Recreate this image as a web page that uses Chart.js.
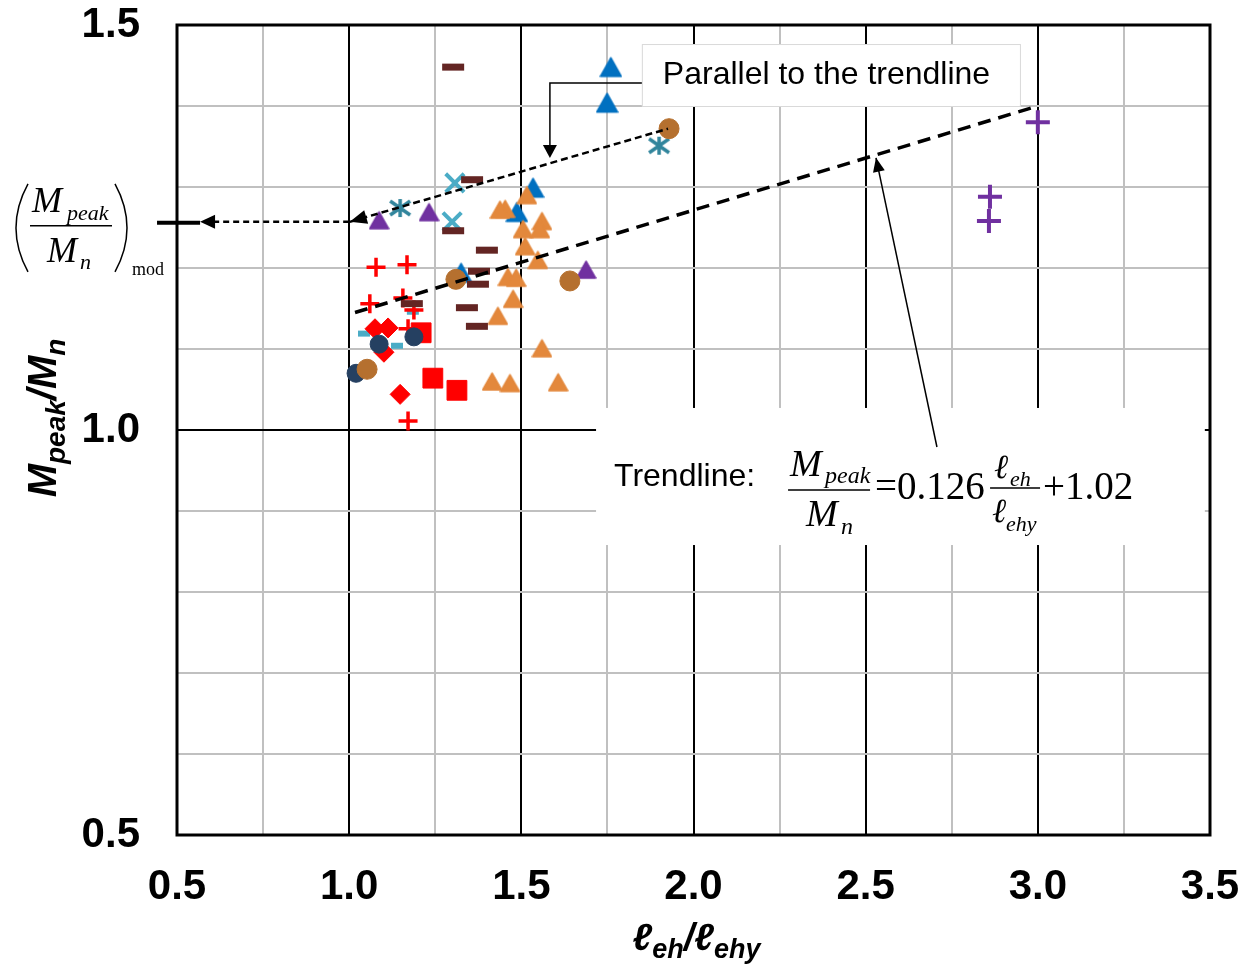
<!DOCTYPE html>
<html lang="en">
<head>
<meta charset="UTF-8">
<title>Mpeak/Mn vs leh/lehy</title>
<script src="https://cdn.jsdelivr.net/npm/chart.js"></script>
<style>
  html, body { margin: 0; padding: 0; background: #fff; }
  #chart { display: block; }
</style>
</head>
<body>
<canvas id="chart" width="1250" height="968"></canvas>
<script>
  // axis ranges and the ticks that carry a label
  const xMin = 0.5, xMax = 3.5, xStep = 0.25;
  const yMin = 0.5, yMax = 1.5, yStep = 0.1;
  const xLabelled = [0.5, 1.0, 1.5, 2.0, 2.5, 3.0, 3.5];
  const yLabelled = [0.5, 1.0, 1.5];

  // [leh/lehy, Mpeak/Mn] per specimen group
  const brownCircle = [[1.052, 1.075], [1.310, 1.186], [1.641, 1.184], [1.929, 1.372]];
  const navyCircle = [[1.020, 1.070], [1.087, 1.106], [1.188, 1.115]];
  const maroonDash = [[1.302, 1.448], [1.357, 1.309], [1.302, 1.246], [1.400, 1.222], [1.377, 1.196],
                      [1.374, 1.180], [1.342, 1.151], [1.371, 1.128], [1.182, 1.156]];
  const redSquare = [[1.209, 1.120], [1.243, 1.064], [1.313, 1.049]];
  const redDiamond = [[1.075, 1.125], [1.113, 1.126], [1.101, 1.096], [1.148, 1.044]];
  const redPlus = [[1.078, 1.201], [1.168, 1.204], [1.060, 1.156], [1.156, 1.163], [1.188, 1.148],
                   [1.171, 1.125], [1.171, 1.011]];
  const blueDash = [[1.043, 1.119], [1.139, 1.104], [1.185, 1.146]];
  const blueCross = [[1.307, 1.305], [1.299, 1.257]];
  const tealStar = [[1.148, 1.274], [1.900, 1.351]];
  const orangeTri = [[1.453, 1.273], [1.438, 1.272], [1.516, 1.290], [1.505, 1.248], [1.560, 1.258],
                     [1.554, 1.248], [1.511, 1.227], [1.548, 1.210], [1.461, 1.189], [1.485, 1.188],
                     [1.476, 1.162], [1.432, 1.141], [1.560, 1.101], [1.415, 1.060], [1.467, 1.058],
                     [1.607, 1.059]];
  const blueTri = [[1.760, 1.448], [1.749, 1.404], [1.534, 1.299], [1.487, 1.269], [1.325, 1.194]];
  const purpleTri = [[1.087, 1.259], [1.232, 1.269], [1.688, 1.198]];
  const purplePlus = [[3.000, 1.380], [2.861, 1.288], [2.858, 1.258]];

  // trendline and its parallel (end points)
  const trendline = [[1.017, 1.145], [2.992, 1.399]];
  const parallelLine = [[1.002, 1.257], [1.926, 1.372]];

  // annotation anchors, in axis units
  const modY = 1.257;
  const modArrowTipX = 0.567, modTickStartX = 0.442;
  const noteBox = [1.850, 1.4765, 2.948, 1.400];
  const noteElbow = [1.583, 1.4284, 1.3358];
  const eqBox = [1.717, 1.0272, 3.485, 0.858];
  const eqArrow = [2.707, 0.979, 2.530, 1.336];

  const SANS = '"Liberation Sans", Arial, sans-serif';
  const SERIF = '"Liberation Serif", "Times New Roman", serif';

  const pts = arr => arr.map(p => ({ x: p[0], y: p[1] }));
  const near = (list, v) => list.some(t => Math.abs(t - v) < 1e-6);

  function asterisk(color) {
    const c = document.createElement('canvas');
    c.width = c.height = 26;
    const g = c.getContext('2d');
    g.strokeStyle = color;
    g.lineWidth = 3.5;
    g.beginPath();
    g.moveTo(13, 4); g.lineTo(13, 22);
    g.moveTo(3, 6); g.lineTo(23, 20);
    g.moveTo(23, 6); g.lineTo(3, 20);
    g.stroke();
    return c;
  }

  // Excel-like triangle: box centred on the point
  function tri(color, w) {
    const c = document.createElement('canvas');
    c.width = c.height = w;
    const g = c.getContext('2d');
    const h = w * 0.9, top = (w - h) / 2;
    g.fillStyle = g.strokeStyle = color;
    g.lineWidth = 1.5;
    g.lineJoin = 'round';
    g.beginPath();
    g.moveTo(w / 2, top + 1);
    g.lineTo(w - 1, top + h - 1);
    g.lineTo(1, top + h - 1);
    g.closePath();
    g.fill();
    g.stroke();
    return c;
  }

  function marks(data, style, color, radius, border) {
    const filled = style === 'circle' || style === 'rect' || style === 'rectRot';
    return {
      data: pts(data),
      order: 1,
      pointStyle: style,
      pointRadius: radius,
      backgroundColor: filled ? color : 'transparent',
      borderColor: color,
      pointBorderWidth: border
    };
  }

  function arrowHead(ctx, tx, ty, fx, fy, len, half) {
    const a = Math.atan2(ty - fy, tx - fx);
    const bx = tx - len * Math.cos(a), by = ty - len * Math.sin(a);
    ctx.beginPath();
    ctx.moveTo(tx, ty);
    ctx.lineTo(bx + half * Math.sin(a), by - half * Math.cos(a));
    ctx.lineTo(bx - half * Math.sin(a), by + half * Math.cos(a));
    ctx.closePath();
    ctx.fill();
  }

  function runs(ctx, parts, x, y, center) {
    let w = 0;
    parts.forEach(p => { ctx.font = p.f; w += ctx.measureText(p.t).width + (p.gap || 0); });
    let cx = center ? x - w / 2 : x;
    ctx.textAlign = 'left';
    ctx.textBaseline = 'alphabetic';
    parts.forEach(p => {
      ctx.font = p.f;
      ctx.fillText(p.t, cx, y + (p.dy || 0));
      cx += ctx.measureText(p.t).width + (p.gap || 0);
    });
  }

  function put(ctx, t, x, y, font) {
    ctx.font = font;
    ctx.textAlign = 'left';
    ctx.textBaseline = 'alphabetic';
    ctx.fillText(t, x, y);
  }

  const notes = {
    id: 'notes',
    beforeDatasetsDraw(chart) {
      const { ctx, scales: { x, y } } = chart;
      ctx.save();
      ctx.fillStyle = '#fff';
      const ex0 = x.getPixelForValue(eqBox[0]), ey0 = y.getPixelForValue(eqBox[1]);
      const ex1 = x.getPixelForValue(eqBox[2]), ey1 = y.getPixelForValue(eqBox[3]);
      ctx.fillRect(ex0, ey0, ex1 - ex0, ey1 - ey0);
      const nx0 = x.getPixelForValue(noteBox[0]), ny0 = y.getPixelForValue(noteBox[1]);
      const nx1 = x.getPixelForValue(noteBox[2]), ny1 = y.getPixelForValue(noteBox[3]);
      ctx.fillRect(nx0, ny0, nx1 - nx0, ny1 - ny0);
      ctx.strokeStyle = '#d9d9d9';
      ctx.lineWidth = 1;
      ctx.strokeRect(nx0 + 0.5, ny0 + 0.5, nx1 - nx0, ny1 - ny0);
      ctx.restore();
    },
    afterDatasetsDraw(chart) {
      const { ctx, chartArea: a, scales: { x, y } } = chart;
      const X = v => x.getPixelForValue(v), Y = v => y.getPixelForValue(v);
      ctx.save();

      // frame
      ctx.strokeStyle = '#000';
      ctx.lineWidth = 3;
      ctx.strokeRect(a.left, a.top, a.right - a.left, a.bottom - a.top);

      ctx.fillStyle = '#000';
      // arrow head on the parallel line
      arrowHead(ctx, X(parallelLine[0][0]), Y(parallelLine[0][1]),
                X(parallelLine[1][0]), Y(parallelLine[1][1]), 17, 7);

      // dashed arrow to the y axis
      const my = Y(modY);
      ctx.lineWidth = 2.5;
      ctx.setLineDash([6, 4]);
      ctx.beginPath();
      ctx.moveTo(X(1.0), my);
      ctx.lineTo(X(modArrowTipX) + 12, my);
      ctx.stroke();
      ctx.setLineDash([]);
      arrowHead(ctx, X(modArrowTipX), my, X(1.0), my, 15, 7);
      ctx.lineWidth = 4;
      ctx.beginPath();
      ctx.moveTo(X(modTickStartX), my + 1);
      ctx.lineTo(X(modArrowTipX), my + 1);
      ctx.stroke();

      // connector from the note box
      ctx.lineWidth = 1.5;
      ctx.beginPath();
      ctx.moveTo(X(noteBox[0]), Y(noteElbow[1]));
      ctx.lineTo(X(noteElbow[0]), Y(noteElbow[1]));
      ctx.lineTo(X(noteElbow[0]), Y(noteElbow[2]) - 10);
      ctx.stroke();
      arrowHead(ctx, X(noteElbow[0]), Y(noteElbow[2]), X(noteElbow[0]), Y(noteElbow[1]), 13, 7);

      // arrow from the equation to the trendline
      ctx.beginPath();
      ctx.moveTo(X(eqArrow[0]), Y(eqArrow[1]));
      ctx.lineTo(X(eqArrow[2]), Y(eqArrow[3]));
      ctx.stroke();
      arrowHead(ctx, X(eqArrow[2]), Y(eqArrow[3]), X(eqArrow[0]), Y(eqArrow[1]), 14, 6);

      // note text
      ctx.textBaseline = 'middle';
      ctx.font = '32px ' + SANS;
      ctx.fillText('Parallel to the trendline', X(noteBox[0]) + 21, (Y(noteBox[1]) + Y(noteBox[3])) / 2);

      // equation
      const bx = X(eqBox[0]), by = Y(eqBox[1]);
      put(ctx, 'Trendline:', bx + 18, by + 78, '32px ' + SANS);
      put(ctx, 'M', bx + 194, by + 68, 'italic 38px ' + SERIF);
      put(ctx, 'peak', bx + 229, by + 75, 'italic 24px ' + SERIF);
      put(ctx, 'M', bx + 210, by + 118, 'italic 38px ' + SERIF);
      put(ctx, 'n', bx + 245, by + 126, 'italic 24px ' + SERIF);
      put(ctx, '=0.126', bx + 279, by + 91, '39px ' + SERIF);
      put(ctx, '\u2113', bx + 398, by + 70, 'italic 34px ' + SERIF);
      put(ctx, 'eh', bx + 414, by + 78, 'italic 22px ' + SERIF);
      put(ctx, '\u2113', bx + 396, by + 114, 'italic 34px ' + SERIF);
      put(ctx, 'ehy', bx + 410, by + 123, 'italic 22px ' + SERIF);
      put(ctx, '+1.02', bx + 447, by + 91, '39px ' + SERIF);
      ctx.lineWidth = 1.5;
      ctx.beginPath();
      ctx.moveTo(bx + 192, by + 82); ctx.lineTo(bx + 274, by + 82);
      ctx.moveTo(bx + 394, by + 80); ctx.lineTo(bx + 444, by + 80);
      ctx.stroke();

      // (Mpeak/Mn)mod label left of the axis
      const lx = a.left - 177;
      ctx.lineWidth = 1.5;
      ctx.beginPath();
      ctx.moveTo(lx + 28, my - 38); ctx.quadraticCurveTo(lx + 4, my + 6, lx + 28, my + 50);
      ctx.moveTo(lx + 115, my - 38); ctx.quadraticCurveTo(lx + 139, my + 6, lx + 115, my + 50);
      ctx.moveTo(lx + 30, my + 4); ctx.lineTo(lx + 112, my + 4);
      ctx.stroke();
      put(ctx, 'M', lx + 32, my - 10, 'italic 36px ' + SERIF);
      put(ctx, 'peak', lx + 67, my - 2, 'italic 22px ' + SERIF);
      put(ctx, 'M', lx + 47, my + 40, 'italic 36px ' + SERIF);
      put(ctx, 'n', lx + 80, my + 47, 'italic 22px ' + SERIF);
      put(ctx, 'mod', lx + 132, my + 53, '18px ' + SERIF);

      // axis titles
      const bi = 'bold italic ';
      runs(ctx, [
        { t: '\u2113', f: bi + '38px ' + SANS },
        { t: 'eh', f: bi + '27px ' + SANS, dy: 8 },
        { t: '/', f: bi + '38px ' + SANS },
        { t: '\u2113', f: bi + '38px ' + SANS },
        { t: 'ehy', f: bi + '27px ' + SANS, dy: 8 }
      ], (a.left + a.right) / 2 + 3, 950, true);

      ctx.translate(56, 418);
      ctx.rotate(-Math.PI / 2);
      runs(ctx, [
        { t: 'M', f: bi + '40px ' + SANS },
        { t: 'peak', f: bi + '28px ' + SANS, dy: 9 },
        { t: '/', f: bi + '40px ' + SANS },
        { t: 'M', f: bi + '40px ' + SANS },
        { t: 'n', f: bi + '28px ' + SANS, dy: 9 }
      ], 0, 0, true);
      ctx.restore();
    }
  };

  // drop the room Chart.js keeps for overhanging tick labels
  function noOverhang(s) {
    s.paddingTop = 0; s.paddingBottom = 0; s.paddingLeft = 0; s.paddingRight = 0;
  }

  new Chart(document.getElementById('chart'), {
    type: 'scatter',
    data: {
      datasets: [
        {
          data: pts(trendline), order: 0, showLine: true, pointRadius: 0,
          borderColor: '#000', borderWidth: 3.5, borderDash: [13, 8]
        },
        {
          data: pts(parallelLine), order: 0, showLine: true, pointRadius: 0,
          borderColor: '#000', borderWidth: 2.5, borderDash: [7, 4]
        },
        marks(brownCircle, 'circle', '#b5702f', 10, 1),
        marks(navyCircle, 'circle', '#254061', 9, 1),
        marks(maroonDash, 'line', '#632523', 11, 7),
        marks(redSquare, 'rect', '#ff0000', 14, 1),
        marks(redDiamond, 'rectRot', '#ff0000', 10, 1),
        marks(redPlus, 'cross', '#ff0000', 9.5, 3.5),
        marks(blueDash, 'line', '#4bacc6', 6, 6),
        marks(blueCross, 'crossRot', '#4bacc6', 13, 4),
        marks(tealStar, asterisk('#31859c'), '#31859c', 12, 1),
        marks(orangeTri, tri('#e3883c', 21), '#e3883c', 11, 1),
        marks(blueTri, tri('#0070c0', 23), '#0070c0', 12, 1),
        marks(purpleTri, tri('#7030a0', 21), '#7030a0', 11, 1),
        marks(purplePlus, 'cross', '#7030a0', 12, 4)
      ]
    },
    options: {
      responsive: false,
      animation: false,
      events: [],
      layout: { padding: { top: 25, right: 40, left: 0, bottom: 0 } },
      plugins: { legend: { display: false }, tooltip: { enabled: false } },
      scales: {
        x: {
          type: 'linear', min: xMin, max: xMax,
          afterFit(s) { s.height = 133; noOverhang(s); },
          border: { display: false },
          grid: {
            drawTicks: false, lineWidth: 2,
            color: c => near(xLabelled, c.tick.value) ? '#000' : '#c0c0c0'
          },
          ticks: {
            stepSize: xStep, autoSkip: false, maxRotation: 0, padding: 27, color: '#000',
            font: { family: SANS, size: 42, weight: 'bold' },
            callback: v => near(xLabelled, v) ? v.toFixed(1) : ''
          }
        },
        y: {
          type: 'linear', min: yMin, max: yMax,
          afterFit(s) { s.width = 177; noOverhang(s); },
          border: { display: false },
          grid: {
            drawTicks: false, lineWidth: 2,
            color: c => Math.abs(c.tick.value - 1) < 1e-6 ? '#000' : '#c0c0c0'
          },
          ticks: {
            stepSize: yStep, autoSkip: false, padding: 37, color: '#000',
            font: { family: SANS, size: 42, weight: 'bold' },
            callback: v => near(yLabelled, v) ? v.toFixed(1) : ''
          }
        }
      }
    },
    plugins: [notes]
  });
</script>
</body>
</html>
